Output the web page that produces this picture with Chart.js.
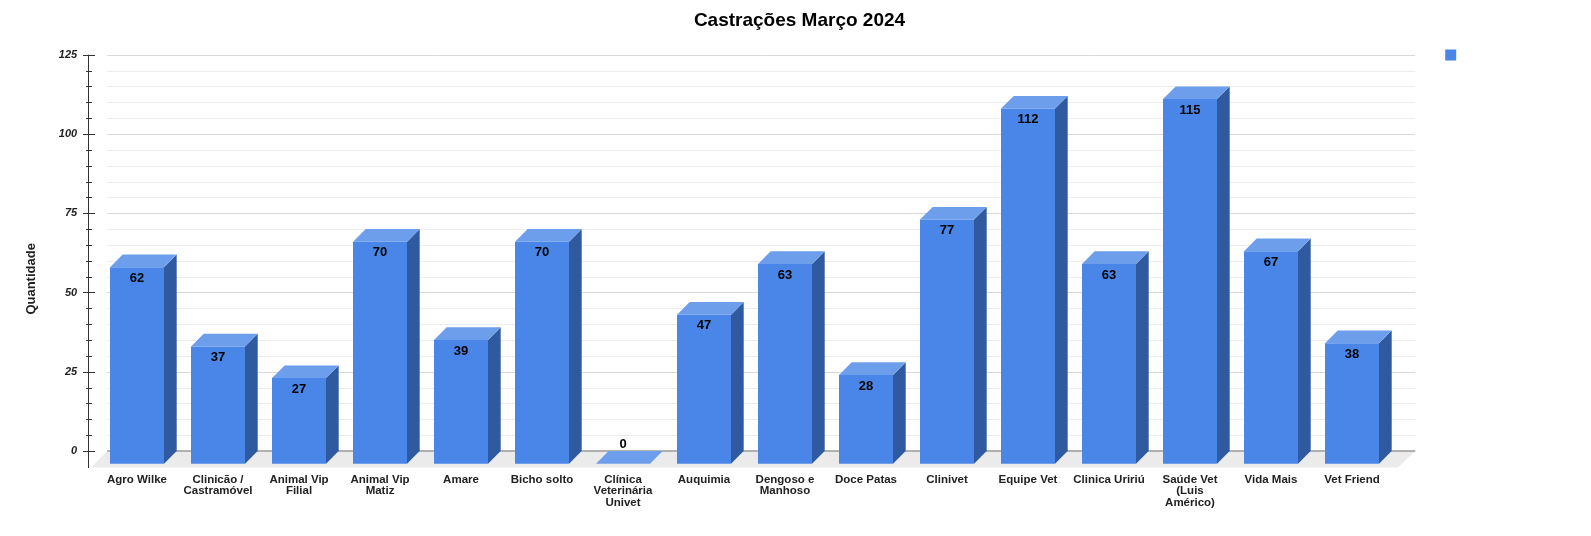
<!DOCTYPE html>
<html><head><meta charset="utf-8">
<script src="https://cdn.jsdelivr.net/npm/chart.js@4.4.1/dist/chart.umd.min.js"></script>
<style>html,body{margin:0;padding:0;background:#fff}#wrap{width:1591px;height:536px;position:relative}</style>
</head><body><div id="wrap"><canvas id="c"></canvas></div>
<script>
const chartTitle = 'Castrações Março 2024';
const yAxisTitle = 'Quantidade';
const categories = [
  ['Agro Wilke'],
  ['Clinicão /', 'Castramóvel'],
  ['Animal Vip', 'Filial'],
  ['Animal Vip', 'Matiz'],
  ['Amare'],
  ['Bicho solto'],
  ['Clínica', 'Veterinária', 'Univet'],
  ['Auquimia'],
  ['Dengoso e', 'Manhoso'],
  ['Doce Patas'],
  ['Clinivet'],
  ['Equipe Vet'],
  ['Clinica Uririú'],
  ['Saúde Vet', '(Luis', 'Américo)'],
  ['Vida Mais'],
  ['Vet Friend']
];
const values = [62, 37, 27, 70, 39, 70, 0, 47, 63, 28, 77, 112, 63, 115, 67, 38];
const yMin = 0, yMax = 125, yStep = 5, yLabelEvery = 25;

Chart.defaults.font.family = "Arial, 'Liberation Sans', Helvetica, sans-serif";

const DX = 12.7, DY = 12.7;
const COL = { front: '#4a86e8', top: '#6d9eeb', side: '#2f5aa0' };

const threeD = {
  id: 'threeD',
  beforeDatasetsDraw(chart) {
    const { ctx, chartArea: ca, scales: { y } } = chart;
    const y0 = y.getPixelForValue(0);
    const gl = ca.left - 2, gr = ca.right + 10;
    ctx.save();
    // floor
    ctx.fillStyle = '#ebebeb';
    ctx.beginPath();
    ctx.moveTo(gl, y0); ctx.lineTo(gr, y0);
    ctx.lineTo(gr - 17, y0 + 16.5); ctx.lineTo(gl - 16, y0 + 16.5);
    ctx.closePath(); ctx.fill();
    // grid lines
    y.ticks.forEach(t => {
      if (t.value === 0) return;
      const py = Math.round(y.getPixelForValue(t.value)) + 0.5;
      ctx.strokeStyle = t.value % yLabelEvery === 0 ? '#d9d9d9' : '#ececec';
      ctx.lineWidth = 1;
      ctx.beginPath(); ctx.moveTo(gl, py); ctx.lineTo(gr, py); ctx.stroke();
    });
    // zero line
    ctx.strokeStyle = '#9a9a9a'; ctx.lineWidth = 1.5;
    ctx.beginPath(); ctx.moveTo(gl, y0); ctx.lineTo(gr, y0); ctx.stroke();
    // axis line with ticks
    const ax = Math.round(ca.left - 21) + 0.5;
    ctx.strokeStyle = '#333'; ctx.lineWidth = 1;
    ctx.beginPath(); ctx.moveTo(ax, y.getPixelForValue(yMax)); ctx.lineTo(ax, y0 + 17); ctx.stroke();
    y.ticks.forEach(t => {
      const py = Math.round(y.getPixelForValue(t.value)) + 0.5;
      const major = t.value % yLabelEvery === 0;
      ctx.beginPath();
      ctx.moveTo(ax - (major ? 5.5 : 2.5), py); ctx.lineTo(ax + (major ? 6.5 : 3.5), py);
      ctx.stroke();
    });
    // y axis title
    ctx.fillStyle = '#222';
    ctx.font = "bold 13px Arial, 'Liberation Sans', sans-serif";
    ctx.textAlign = 'center'; ctx.textBaseline = 'middle';
    ctx.translate(ca.left - 78, (ca.top + y0) / 2 + 26);
    ctx.rotate(-Math.PI / 2);
    ctx.fillText(yAxisTitle, 0, 0);
    ctx.restore();
    ctx.save();
    ctx.translate(-DX, DY);
  },
  afterDatasetsDraw(chart) {
    const { ctx } = chart;
    const meta = chart.getDatasetMeta(0);
    meta.data.forEach((bar, i) => {
      const { x, y, base, width } = bar.getProps(['x', 'y', 'base', 'width'], true);
      const l = x - width / 2, r = x + width / 2;
      if (base - y > 0.5) {
        ctx.fillStyle = COL.side;
        ctx.beginPath();
        ctx.moveTo(r, y); ctx.lineTo(r + DX, y - DY); ctx.lineTo(r + DX, base - DY); ctx.lineTo(r, base);
        ctx.closePath(); ctx.fill();
      }
      ctx.fillStyle = COL.top;
      ctx.beginPath();
      ctx.moveTo(l, y); ctx.lineTo(l + DX, y - DY); ctx.lineTo(r + DX, y - DY); ctx.lineTo(r, y);
      ctx.closePath(); ctx.fill();
      ctx.fillStyle = '#000';
      ctx.font = "bold 13px Arial, 'Liberation Sans', sans-serif";
      ctx.textAlign = 'center'; ctx.textBaseline = 'middle';
      const v = values[i];
      ctx.fillText(String(v), x, v === 0 ? y - 19.7 : y + 11);
    });
    ctx.restore();
  }
};

new Chart(document.getElementById('c'), {
  type: 'bar',
  data: {
    labels: categories,
    datasets: [{
      label: '',
      data: values,
      backgroundColor: COL.front,
      borderColor: COL.front,
      borderWidth: 0,
      categoryPercentage: 1,
      barPercentage: 54 / 81,
      clip: false
    }]
  },
  options: {
    responsive: true,
    maintainAspectRatio: false,
    animation: false,
    events: [],
    layout: { padding: { left: 8, top: 9, right: 0, bottom: 0 } },
    plugins: {
      title: {
        display: true, text: chartTitle, color: '#000',
        font: { size: 19, weight: 'bold' },
        padding: { top: 0, bottom: 22.9 }
      },
      legend: {
        display: true, position: 'right', align: 'start',
        labels: { boxWidth: 11, boxHeight: 11, padding: 40, font: { size: 12 } }
      },
      tooltip: { enabled: false }
    },
    scales: {
      x: {
        grid: { display: false, drawTicks: false },
        border: { display: false },
        ticks: {
          autoSkip: false, maxRotation: 0, minRotation: 0,
          padding: 22.7, labelOffset: -DX, color: '#222',
          font: { size: 11.5, weight: 'bold', lineHeight: 1.0 }
        },
        afterFit(s) { s.height = 85; }
      },
      y: {
        min: yMin, max: yMax,
        grid: { display: false, drawTicks: false },
        border: { display: false },
        ticks: {
          stepSize: yStep, maxTicksLimit: 100, autoSkip: false, padding: 32, color: '#222',
          font: { size: 11, weight: 'bold', style: 'italic' },
          callback: v => (v % yLabelEvery === 0 ? String(v) : '')
        },
        afterFit(s) { s.width = 101.2; }
      },
      spacer: {
        type: 'linear', position: 'right', weight: 2000, display: true,
        grid: { display: false, drawTicks: false },
        border: { display: false },
        ticks: { display: false },
        afterFit(s) { s.width = 118.8; }
      }
    }
  },
  plugins: [threeD]
});
</script>
</body></html>
